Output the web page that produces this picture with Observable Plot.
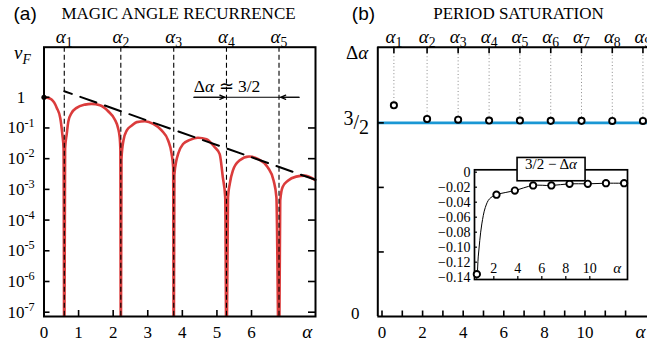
<!DOCTYPE html>
<html>
<head>
<meta charset="utf-8">
<script src="https://cdn.jsdelivr.net/npm/d3@7"></script>
<script src="https://cdn.jsdelivr.net/npm/@observablehq/plot@0.6"></script>
<style>
  html, body { margin: 0; padding: 0; background: #fff; }
  #wrap { position: relative; width: 647px; height: 347px; overflow: hidden; background: #fff; }
  #wrap > svg { position: absolute; overflow: visible; }
</style>
</head>
<body>
<div id="wrap"></div>
<script>
// ---------- data ----------
// (a) Fermi velocity |v_F| versus alpha
const vfAlpha = [0, 0.08, 0.22, 0.37, 0.47, 0.53, 0.566, 0.586, 0.61, 0.656, 0.705, 0.80, 0.944, 1.185, 1.376, 1.617, 1.856, 2.05, 2.14, 2.19, 2.208, 2.221, 2.24, 2.297, 2.394, 2.538, 2.68, 2.92, 3.16, 3.40, 3.59, 3.69, 3.735, 3.751, 3.77, 3.83, 3.88, 4.02, 4.22, 4.45, 4.70, 4.93, 5.08, 5.17, 5.24, 5.276, 5.32, 5.37, 5.46, 5.65, 5.93, 6.18, 6.47, 6.64, 6.72, 6.795, 6.83, 6.90, 7.05, 7.29, 7.53, 7.85];
const vfValue = [1, 0.97, 0.84, 0.45, 0.21, 0.062, 0.022, 1e-9, 0.022, 0.062, 0.166, 0.31, 0.45, 0.575, 0.61, 0.55, 0.35, 0.186, 0.1, 0.048, 0.02, 1e-9, 0.01, 0.039, 0.083, 0.12, 0.155, 0.166, 0.135, 0.083, 0.039, 0.0145, 0.0052, 1e-9, 0.003, 0.009, 0.0145, 0.030, 0.041, 0.048, 0.043, 0.024, 0.014, 0.0025, 0.00055, 1e-9, 0.00055, 0.0015, 0.0041, 0.0087, 0.0117, 0.0098, 0.0052, 0.0019, 0.00055, 1e-9, 0.00044, 0.0012, 0.0019, 0.0026, 0.0028, 0.002];
const magicAngles = [0.586, 2.221, 3.751, 5.276, 6.795];
const magicLabels = ["*α*_{1}", "*α*_{2}", "*α*_{3}", "*α*_{4}", "*α*_{5}"];
const envelopeAlpha = [0.586, 7.85];
const envelopeValue = [1.57, 0.00205];
const spanAlpha = [4.33, 7.38];          // extent of the Δα arrow annotation
const spanValue = 1;
const spanText = "Δ*α* ≃ 3/2";
const logTicks = [1, 1e-1, 1e-2, 1e-3, 1e-4, 1e-5, 1e-6, 1e-7];
const logTickLabels = ["1", "10^{-1}", "10^{-2}", "10^{-3}", "10^{-4}", "10^{-5}", "10^{-6}", "10^{-7}"];
const aTicks = [0, 1, 2, 3, 4, 5, 6];
const aTickMarks = [1, 2, 3, 4, 5, 6];

// (b) period saturation
const periodAngles = [0.586, 2.221, 3.751, 5.276, 6.795, 8.313, 9.829, 11.345, 12.855];
const periodLabels = periodAngles.map((d, i) => `*α*_{${i + 1}}`);
const deviation = [-0.136, -0.030, -0.0245, -0.0177, -0.0177, -0.0155, -0.0155, -0.0147, -0.0147]; // 3/2 − Δα
const deltaAlpha = deviation.map(d => 1.5 - d);
const bXTicks = [0, 2, 4, 6, 8, 10];
const bXTickMarks = d3.range(0, 13);
const bYTickMarks = [0.5, 1, 1.5];
// inset fit curve
const fitAlpha = [0.55, 0.62, 0.70, 0.83, 1.0, 1.29, 1.64, 2.221, 3.0, 3.751, 5.276, 6.795, 8.313, 9.829, 11.345, 12.855, 13.14];
const fitValue = [-0.145, -0.136, -0.113, -0.091, -0.069, -0.047, -0.0355, -0.030, -0.027, -0.0245, -0.0177, -0.0177, -0.0155, -0.0155, -0.0147, -0.0147, -0.0146];
const insetYTicks = [0, -0.02, -0.04, -0.06, -0.08, -0.10, -0.12, -0.14];
const insetXTicks = [2, 4, 6, 8, 10];

// ---------- helpers ----------
const SVGNS = "http://www.w3.org/2000/svg";
function rich(svg) {
  for (const t of svg.querySelectorAll("text")) {
    const s = t.textContent;
    if (!/[*_^↑↓]/.test(s)) continue;
    const fs = parseFloat(getComputedStyle(t).fontSize) || 12;
    t.textContent = "";
    let italic = false, shift = 0;
    const re = /\*|([_^↑↓])\{([^}]*)\}|[^*_^↑↓]+/g;
    let m;
    while ((m = re.exec(s))) {
      if (m[0] === "*") { italic = !italic; continue; }
      const ts = document.createElementNS(SVGNS, "tspan");
      let target = 0, content = m[0], size = null;
      if (m[1]) {
        content = m[2];
        if (m[1] === "^") { target = -0.40 * fs; size = "72%"; }
        else if (m[1] === "_") { target = 0.24 * fs; size = "72%"; }
        else if (m[1] === "↑") target = -0.22 * fs;
        else target = 0.22 * fs;
      }
      if (target !== shift) { ts.setAttribute("dy", target - shift); shift = target; }
      if (size) ts.setAttribute("font-size", size);
      if (italic) ts.setAttribute("font-style", "italic");
      ts.textContent = content;
      t.appendChild(ts);
    }
  }
}
function place(svg, left, top) {
  svg.style.left = left + "px";
  svg.style.top = top + "px";
  document.getElementById("wrap").appendChild(svg);
  rich(svg);
}
const style = {fontFamily: "'Liberation Serif', serif", color: "black", background: "transparent", overflow: "visible"};

// ---------- (a) ----------
const vf = vfAlpha.map((a, i) => ({a, v: vfValue[i]}));
const env = envelopeAlpha.map((a, i) => ({a, v: envelopeValue[i]}));
const A = {w: 330, h: 347, l: 43.5, r: 15, t: 46.7, b: 31};
const aFW = A.w - A.l - A.r, aFH = A.h - A.t - A.b;
const plotA = Plot.plot({
  width: A.w, height: A.h, marginLeft: A.l, marginRight: A.r, marginTop: A.t, marginBottom: A.b,
  x: {domain: [0, 7.85], axis: null},
  y: {type: "log", domain: [10 ** -7.14, 10 ** 1.63], axis: null},
  style,
  marks: [
    Plot.line(vf, {x: "a", y: "v", stroke: "#db3c3c", strokeWidth: 2.6, curve: "monotone-x", clip: true}),
    Plot.ruleX(magicAngles, {stroke: "black", strokeWidth: 1.1, strokeDasharray: "5,3"}),
    Plot.line(env, {x: "a", y: "v", stroke: "black", strokeWidth: 2, strokeDasharray: "17,9", strokeDashoffset: 9}),
    Plot.link([spanAlpha], {x1: d => d[0], x2: d => d[1], y1: spanValue, y2: spanValue, stroke: "black", strokeWidth: 1}),
    Plot.arrow([[spanAlpha[0], magicAngles[3]], [spanAlpha[1], magicAngles[4]]], {x1: d => d[0], x2: d => d[1], y1: spanValue, y2: spanValue, stroke: "black", strokeWidth: 1.2, headLength: 7, headAngle: 45, insetEnd: 1.5}),
    Plot.text([spanText], {x: spanAlpha[0], y: spanValue, text: d => d, textAnchor: "start", lineAnchor: "middle", dy: -10.5, fontSize: 17.5}),
    Plot.dot(vf.slice(0, 1), {x: "a", y: "v", r: 2.6, fill: "black"}),
    Plot.ruleY(logTicks, {stroke: "black", strokeWidth: 1.6, insetRight: aFW - 6}),
    Plot.ruleY(logTicks.slice(1), {stroke: "black", strokeWidth: 1.6, insetLeft: aFW - 7}),
    Plot.ruleX(aTickMarks, {stroke: "black", strokeWidth: 1.6, insetTop: aFH - 6}),
    Plot.frame({stroke: "black", strokeWidth: 2}),
    Plot.text(logTicks, {y: d => d, text: (d, i) => logTickLabels[i], frameAnchor: "left", dx: -23, textAnchor: "middle", lineAnchor: "middle", fontSize: 17}),
    Plot.text(aTicks, {x: d => d, text: d => String(d), frameAnchor: "bottom", dy: 15.7, lineAnchor: "middle", fontSize: 17}),
    Plot.text(["*α*"], {x: 7.61, text: d => d, frameAnchor: "bottom", dy: 15.7, lineAnchor: "middle", fontSize: 19}),
    Plot.text(magicAngles, {x: d => d, text: (d, i) => magicLabels[i], frameAnchor: "top", dy: -10.5, lineAnchor: "middle", fontSize: 19}),
    Plot.text(["*v_{F}*"], {text: d => d, frameAnchor: "top-left", dx: -21.5, dy: 6, textAnchor: "middle", lineAnchor: "middle", fontSize: 19}),
    Plot.text(["(a)"], {text: d => d, frameAnchor: "top-left", dx: -30.5, dy: -33.7, textAnchor: "start", lineAnchor: "middle", fontSize: 19, fontFamily: "'Liberation Sans', sans-serif"}),
    Plot.text(["MAGIC ANGLE RECURRENCE"], {text: d => d, frameAnchor: "top-left", dx: 134.5, dy: -33.7, textAnchor: "middle", lineAnchor: "middle", fontSize: 17})
  ]
});
place(plotA, 0, 0);

// ---------- (b) ----------
const B = {w: 317, h: 347, l: 47.3, r: 0, t: 46.7, b: 31};
const bFW = B.w - B.l - B.r, bFH = B.h - B.t - B.b;
const bX = [-0.207, 13.08], bYmax = 2.086;
const pts = periodAngles.map((a, i) => ({a, d: deltaAlpha[i]}));
const plotB = Plot.plot({
  width: B.w, height: B.h, marginLeft: B.l, marginRight: B.r, marginTop: B.t, marginBottom: B.b,
  x: {domain: bX, axis: null},
  y: {domain: [0, bYmax], axis: null},
  style,
  marks: [
    Plot.ruleX(pts, {x: "a", y1: "d", y2: () => bYmax, stroke: "#8a8a8a", strokeWidth: 1, strokeDasharray: "1,2.4"}),
    Plot.ruleX(periodAngles, {stroke: "black", strokeWidth: 1.6, insetBottom: bFH - 6.5}),
    Plot.ruleY([1.5], {stroke: "#1a97d4", strokeWidth: 2.6}),
    Plot.dot(pts, {x: "a", y: "d", r: 3.1, stroke: "black", strokeWidth: 1.9, fill: "white"}),
    Plot.ruleY(bYTickMarks, {stroke: "black", strokeWidth: 1.6, insetRight: bFW - 6.5}),
    Plot.ruleX(bXTickMarks, {stroke: "black", strokeWidth: 1.6, insetTop: bFH - 5.5}),
    Plot.ruleY([bYmax], {stroke: "black", strokeWidth: 2}),
    Plot.ruleY([0], {stroke: "black", strokeWidth: 2}),
    Plot.ruleX([bX[0]], {stroke: "black", strokeWidth: 2}),
    Plot.text(bXTicks, {x: d => d, text: d => String(d), frameAnchor: "bottom", dy: 15.7, lineAnchor: "middle", fontSize: 17}),
    Plot.text(["*α*"], {x: 12.73, text: d => d, frameAnchor: "bottom", dy: 15.7, lineAnchor: "middle", fontSize: 19}),
    Plot.text(periodAngles, {x: d => d, text: (d, i) => periodLabels[i], frameAnchor: "top", dy: -10.5, lineAnchor: "middle", fontSize: 19}),
    Plot.text(["Δ*α*"], {text: d => d, frameAnchor: "top-left", dx: -20.6, dy: 6, textAnchor: "middle", lineAnchor: "middle", fontSize: 19}),
    Plot.text(["↑{3}/↓{2}"], {y: 1.5, text: d => d, frameAnchor: "left", dx: -21.5, textAnchor: "middle", lineAnchor: "middle", fontSize: 20}),
    Plot.text(["0"], {y: 0, text: d => d, frameAnchor: "left", dx: -22.5, dy: -3, textAnchor: "middle", lineAnchor: "middle", fontSize: 17}),
    Plot.text(["(b)"], {text: d => d, frameAnchor: "top-left", dx: -26, dy: -33.7, textAnchor: "start", lineAnchor: "middle", fontSize: 19, fontFamily: "'Liberation Sans', sans-serif"}),
    Plot.text(["PERIOD SATURATION"], {text: d => d, frameAnchor: "top-left", dx: 140.7, dy: -33.7, textAnchor: "middle", lineAnchor: "middle", fontSize: 17})
  ]
});
place(plotB, 330, 0);

// ---------- inset ----------
const I = {w: 215, h: 145, l: 49, r: 13, t: 24.3, b: 11};
const iFW = I.w - I.l - I.r, iFH = I.h - I.t - I.b;
const fit = fitAlpha.map((a, i) => ({a, v: fitValue[i]}));
const ipts = periodAngles.map((a, i) => ({a, v: deviation[i]}));
const inset = Plot.plot({
  width: I.w, height: I.h, marginLeft: I.l, marginRight: I.r, marginTop: I.t, marginBottom: I.b,
  x: {domain: [0.39, 13.14], axis: null},
  y: {domain: [-0.1431, 0.0032], axis: null},
  style,
  marks: [
    Plot.line(fit, {x: "a", y: "v", stroke: "black", strokeWidth: 1, curve: "catmull-rom", clip: true}),
    Plot.ruleY(insetYTicks, {stroke: "black", strokeWidth: 1.2, insetRight: iFW - 3}),
    Plot.ruleX(insetXTicks, {stroke: "black", strokeWidth: 1.2, insetTop: iFH - 3}),
    Plot.frame({stroke: "black", strokeWidth: 1.7}),
    Plot.dot(ipts, {x: "a", y: "v", r: 3.2, stroke: "black", strokeWidth: 1.9, fill: "white"}),
    Plot.text(insetYTicks, {y: d => d, text: d => d === 0 ? "0" : "−" + Math.abs(d).toFixed(2), frameAnchor: "left", dx: -4, textAnchor: "end", lineAnchor: "middle", fontSize: 14}),
    Plot.text(insetXTicks, {x: d => d, text: d => String(d), frameAnchor: "bottom", dy: -11, lineAnchor: "middle", fontSize: 14}),
    Plot.text(["*α*"], {x: 12.28, text: d => d, frameAnchor: "bottom", dy: -11, lineAnchor: "middle", fontSize: 15}),
    Plot.text(["3/2 − Δ*α*"], {text: d => d, frameAnchor: "top", dy: -6, lineAnchor: "middle", fontSize: 15})
  ]
});
place(inset, 425, 145);
// box behind inset title
{
  const gs = [...inset.querySelectorAll("g")].filter(g => g.querySelector("text"));
  const g = gs[gs.length - 1];
  const bb = g.getBBox();
  const r = document.createElementNS(SVGNS, "rect");
  const bw = 68, bh = 23.3;
  r.setAttribute("x", bb.x + bb.width / 2 - bw / 2);
  r.setAttribute("y", bb.y + bb.height / 2 - bh / 2);
  r.setAttribute("width", bw);
  r.setAttribute("height", bh);
  r.setAttribute("fill", "white");
  r.setAttribute("stroke", "black");
  r.setAttribute("stroke-width", 1.6);
  g.parentNode.insertBefore(r, g);
}
</script>
</body>
</html>
